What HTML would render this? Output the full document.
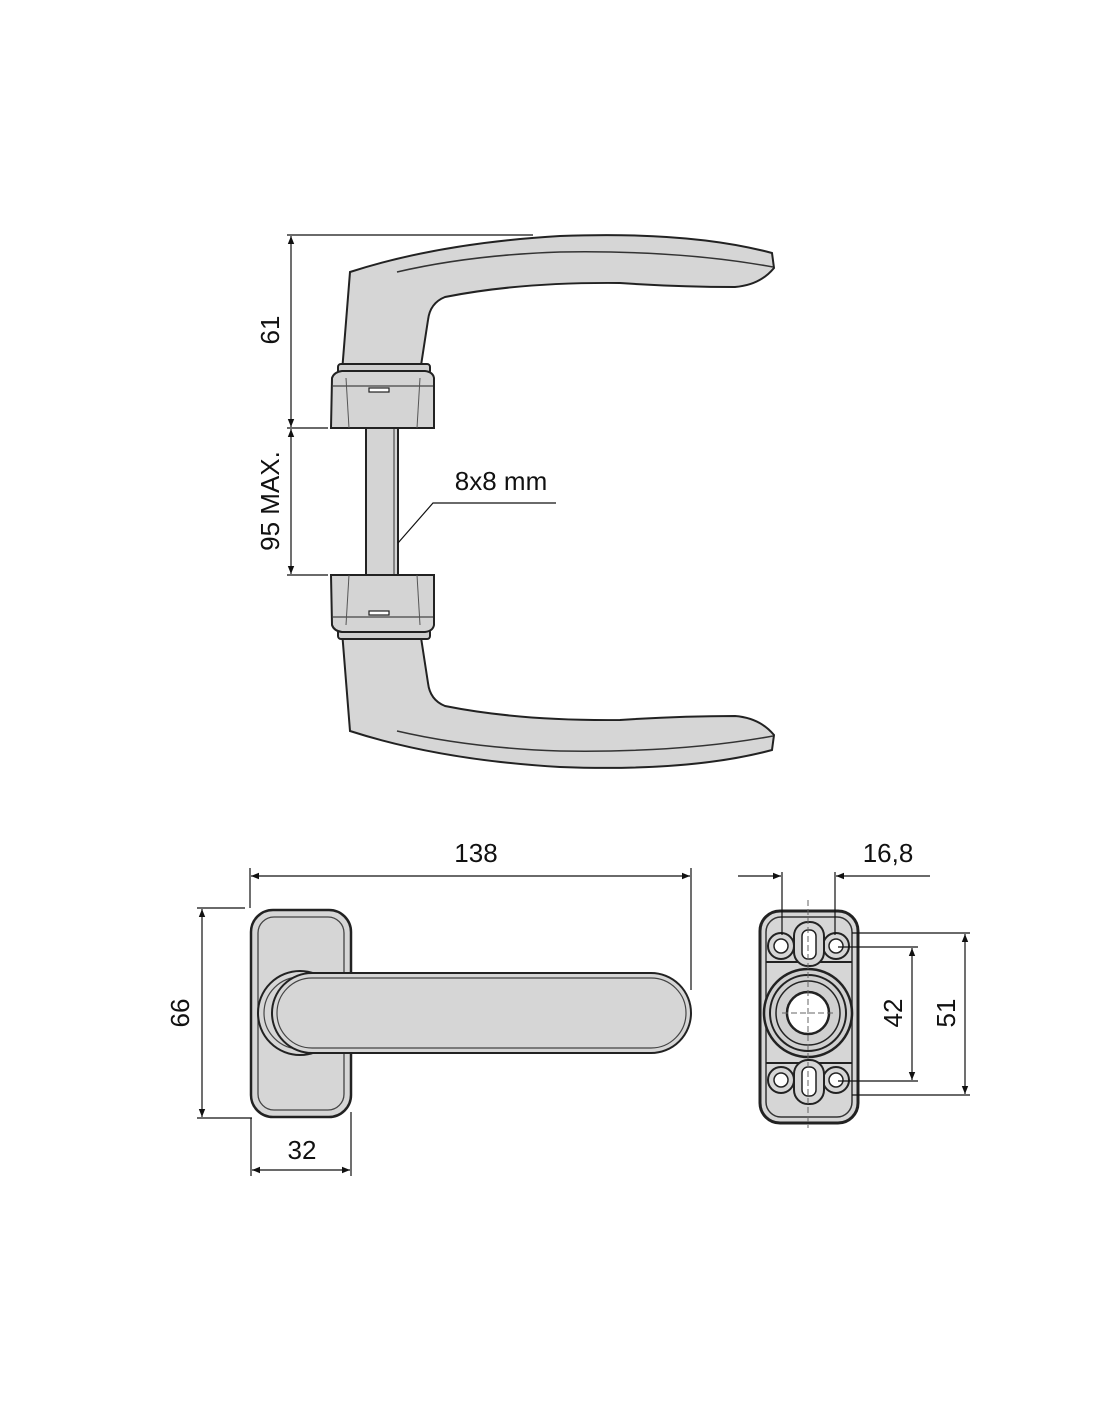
<!DOCTYPE html>
<html><head><meta charset="utf-8"><style>
html,body{margin:0;padding:0;background:#fff;}
svg{display:block;}
text{font-family:"Liberation Sans",Arial,sans-serif;font-size:26px;fill:#111;}
</style></head><body>
<svg width="1100" height="1422" viewBox="0 0 1100 1422" xmlns="http://www.w3.org/2000/svg">
<defs>
<marker id="a" viewBox="0 0 10 10" refX="10" refY="5" markerWidth="12" markerHeight="8" orient="auto-start-reverse" markerUnits="userSpaceOnUse"><path d="M0,1 L10,5 L0,9 Z" fill="#111"/></marker>
<g id="half">
<path d="M342,372 L350,272 Q440,243 560,236 Q690,231 772,253 L774,268 Q760,285 735,287 Q680,287 620,283 Q520,282 445,297 Q430,303 428,320 L420,372 Z" fill="#d6d6d6" stroke="#222" stroke-width="2"/>
<path d="M397,272 Q470,255 560,252 Q680,250 773,267" fill="none" stroke="#333" stroke-width="1.5"/>
<rect x="338" y="364" width="92" height="10" rx="3" fill="#cfcfcf" stroke="#222" stroke-width="2"/>
<path d="M332,378 Q334,372 342,371 L425,371 Q433,372 434,378 L434,428 L331,428 Z" fill="#d4d4d4" stroke="#222" stroke-width="2"/>
<line x1="333" y1="386" x2="433" y2="386" stroke="#444" stroke-width="1.2"/>
<line x1="346" y1="378" x2="349" y2="428" stroke="#555" stroke-width="1"/>
<line x1="420" y1="378" x2="417" y2="428" stroke="#555" stroke-width="1"/>
<rect x="369" y="388" width="20" height="4" fill="#fff" stroke="#222" stroke-width="1.2"/>
</g>
</defs>
<rect x="366" y="428" width="32" height="147" fill="#d4d4d4" stroke="#222" stroke-width="2"/>
<line x1="394" y1="428" x2="394" y2="575" stroke="#333" stroke-width="1"/>
<use href="#half"/>
<use href="#half" transform="translate(0,1003) scale(1,-1)"/>
<g stroke="#111" stroke-width="1.2" fill="none">
<line x1="287" y1="235" x2="533" y2="235"/>
<line x1="287" y1="428" x2="328" y2="428"/>
<line x1="287" y1="575" x2="328" y2="575"/>
<line x1="291" y1="236" x2="291" y2="427" marker-start="url(#a)" marker-end="url(#a)"/>
<line x1="291" y1="429" x2="291" y2="574" marker-start="url(#a)" marker-end="url(#a)"/>
<polyline points="398,543 433,503 556,503"/>
</g>
<text transform="translate(279,330) rotate(-90)" text-anchor="middle">61</text>
<text transform="translate(279,501) rotate(-90)" text-anchor="middle">95 MAX.</text>
<text x="501" y="490" text-anchor="middle">8x8 mm</text>

<rect x="251" y="910" width="100" height="207" rx="22" fill="#d6d6d6" stroke="#222" stroke-width="2.5"/>
<rect x="258" y="917" width="86" height="193" rx="16" fill="none" stroke="#444" stroke-width="1.3"/>
<circle cx="300" cy="1013" r="42" fill="#d6d6d6" stroke="#222" stroke-width="2"/>
<circle cx="300" cy="1013" r="36" fill="none" stroke="#444" stroke-width="1.2"/>
<rect x="272" y="973" width="419" height="80" rx="40" fill="#d6d6d6" stroke="#222" stroke-width="2"/>
<rect x="277" y="978" width="409" height="70" rx="35" fill="none" stroke="#444" stroke-width="1.2"/>
<g stroke="#111" stroke-width="1.2" fill="none">
<line x1="250" y1="868" x2="250" y2="908"/>
<line x1="691" y1="868" x2="691" y2="990"/>
<line x1="251" y1="876" x2="690" y2="876" marker-start="url(#a)" marker-end="url(#a)"/>
<line x1="197" y1="908" x2="245" y2="908"/>
<line x1="197" y1="1118" x2="252" y2="1118"/>
<line x1="202" y1="909" x2="202" y2="1117" marker-start="url(#a)" marker-end="url(#a)"/>
<line x1="251" y1="1118" x2="251" y2="1176"/>
<line x1="351" y1="1112" x2="351" y2="1176"/>
<line x1="252" y1="1170" x2="350" y2="1170" marker-start="url(#a)" marker-end="url(#a)"/>
</g>
<text x="476" y="862" text-anchor="middle">138</text>
<text transform="translate(189,1013) rotate(-90)" text-anchor="middle">66</text>
<text x="302" y="1159" text-anchor="middle">32</text>

<rect x="760" y="911" width="98" height="212" rx="20" fill="#d6d6d6" stroke="#222" stroke-width="3"/>
<rect x="766" y="917" width="86" height="200" rx="15" fill="none" stroke="#333" stroke-width="1.5"/>
<path d="M766,962 L852,962 M766,1063 L852,1063" stroke="#222" stroke-width="2"/>
<g fill="#d6d6d6" stroke="#222" stroke-width="2">
<circle cx="781" cy="946" r="13"/><circle cx="836" cy="946" r="13"/>
<circle cx="781" cy="1080" r="13"/><circle cx="836" cy="1080" r="13"/>
<rect x="794" y="922" width="30" height="44" rx="14"/>
<rect x="794" y="1060" width="30" height="44" rx="14"/>
</g>
<g fill="#fff" stroke="#222" stroke-width="1.5">
<circle cx="781" cy="946" r="7"/><circle cx="836" cy="946" r="7"/>
<circle cx="781" cy="1080" r="7"/><circle cx="836" cy="1080" r="7"/>
<rect x="802" y="930" width="14" height="29" rx="6"/>
<rect x="802" y="1067" width="14" height="29" rx="6"/>
</g>
<circle cx="808" cy="1013" r="44" fill="#d0d0d0" stroke="#222" stroke-width="2.5"/>
<circle cx="808" cy="1013" r="38" fill="none" stroke="#222" stroke-width="2"/>
<circle cx="808" cy="1013" r="32" fill="none" stroke="#222" stroke-width="1.5"/>
<circle cx="808" cy="1013" r="21" fill="#fff" stroke="#222" stroke-width="2.5"/>
<g stroke="#666" stroke-width="1" stroke-dasharray="6,3" fill="none">
<line x1="808" y1="900" x2="808" y2="1128"/>
<line x1="782" y1="1013" x2="834" y2="1013"/>
</g>
<g stroke="#111" stroke-width="1.2" fill="none">
<line x1="782" y1="872" x2="782" y2="935"/>
<line x1="835" y1="872" x2="835" y2="935"/>
<line x1="738" y1="876" x2="781" y2="876" marker-end="url(#a)"/>
<line x1="930" y1="876" x2="836" y2="876" marker-end="url(#a)"/>
<line x1="838" y1="947" x2="918" y2="947"/>
<line x1="838" y1="1081" x2="918" y2="1081"/>
<line x1="912" y1="948" x2="912" y2="1080" marker-start="url(#a)" marker-end="url(#a)"/>
<line x1="852" y1="933" x2="970" y2="933"/>
<line x1="852" y1="1095" x2="970" y2="1095"/>
<line x1="965" y1="934" x2="965" y2="1094" marker-start="url(#a)" marker-end="url(#a)"/>
</g>
<text x="888" y="862" text-anchor="middle">16,8</text>
<text transform="translate(902,1013) rotate(-90)" text-anchor="middle">42</text>
<text transform="translate(955,1013) rotate(-90)" text-anchor="middle">51</text>
</svg>
</body></html>
